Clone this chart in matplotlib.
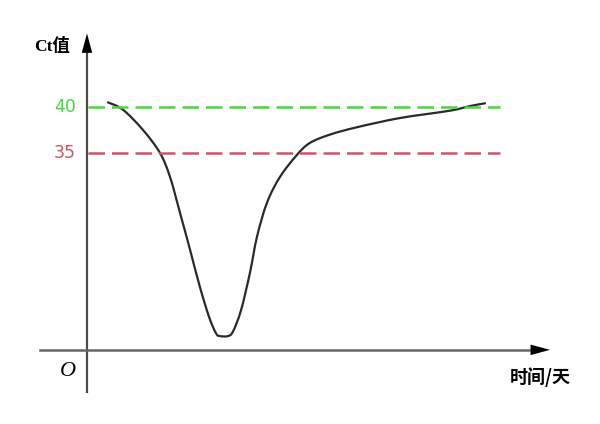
import matplotlib.pyplot as plt
from matplotlib.path import Path
from matplotlib.patches import PathPatch

# Ct curve (x = days, y = Ct value)
days = [2.1, 3.6, 5.6, 7.3, 8.3, 9.3, 10.3, 11.3, 12.2, 12.9, 13.3, 14.1, 14.6,
        15.4, 16.3, 17.0, 18.0, 19.3, 21.0, 22.3, 24.3, 27.0, 31.3, 36.3, 38.3, 39.8]
ct = [40.5, 39.7, 37.5, 35.0, 32.4, 28.5, 24.5, 20.4, 17.2, 15.4, 15.1, 15.1, 15.6,
      17.9, 22.0, 25.9, 29.6, 32.4, 34.8, 36.1, 37.0, 37.8, 38.8, 39.6, 40.1, 40.4]

thresholds = [40, 35]
threshold_labels = ["40", "35"]
threshold_colors = ["#45d83a", "#cc5565"]

fig = plt.figure(figsize=(6, 4.24), dpi=100)
ax = fig.add_axes([0, 0, 1, 1])
ax.set_xlim(-8.7, 51.3)
ax.set_ylim(5.54, 51.63)
ax.axis("off")

x_axis_y = 13.6

# threshold dashed lines + labels
for val, lab, col in zip(thresholds, threshold_labels, threshold_colors):
    ax.plot([0.1, 41.3], [val, val], color=col, lw=1.8, dashes=(6.6, 2.8))
    ax.text(-2.2, val, lab, color=col, fontsize=12.5, ha="center", va="center",
            family="DejaVu Sans")

# the curve, drawn as a smooth bezier path through the read points
pts = list(zip(days, ct))
verts = [pts[0]]
codes = [Path.MOVETO]
for i in range(len(pts) - 1):
    p0 = pts[max(i - 1, 0)]
    p1 = pts[i]
    p2 = pts[i + 1]
    p3 = pts[min(i + 2, len(pts) - 1)]
    c1 = (p1[0] + (p2[0] - p0[0]) / 6, p1[1] + (p2[1] - p0[1]) / 6)
    c2 = (p2[0] - (p3[0] - p1[0]) / 6, p2[1] - (p3[1] - p1[1]) / 6)
    verts += [c1, c2, p2]
    codes += [Path.CURVE4] * 3
ax.add_patch(PathPatch(Path(verts, codes), facecolor="none", edgecolor="#2a2a2a",
                       lw=1.6, capstyle="round"))

# axes with arrows
arrow = dict(arrowstyle="-|>,head_width=0.27,head_length=1.0", color="black",
             lw=0, mutation_scale=14, shrinkA=0, shrinkB=0)
ax.plot([0, 0], [9.0, 46.5], color="#4a4a4a", lw=1.6)
ax.annotate("", xy=(0, 48.0), xytext=(0, 45.0), arrowprops=arrow)
ax.plot([-4.7, 45.0], [x_axis_y, x_axis_y], color="#666666", lw=1.8)
ax.annotate("", xy=(46.3, x_axis_y), xytext=(43.0, x_axis_y), arrowprops=arrow)

# text
ax.text(-1.9, 11.3, "O", fontsize=16, style="italic", family="Liberation Serif",
        ha="center", va="center")
ax.text(-3.5, 46.6, "Ct值", fontsize=12.5, weight="bold",
        family=["Liberation Serif", "Noto Sans CJK SC"], ha="center", va="center")
ax.text(45.3, 10.6, "时间/天", fontsize=13, weight="bold",
        family=["Noto Sans CJK SC", "DejaVu Sans"], ha="center", va="center")

fig.savefig("out.png", dpi=100, facecolor="white")
